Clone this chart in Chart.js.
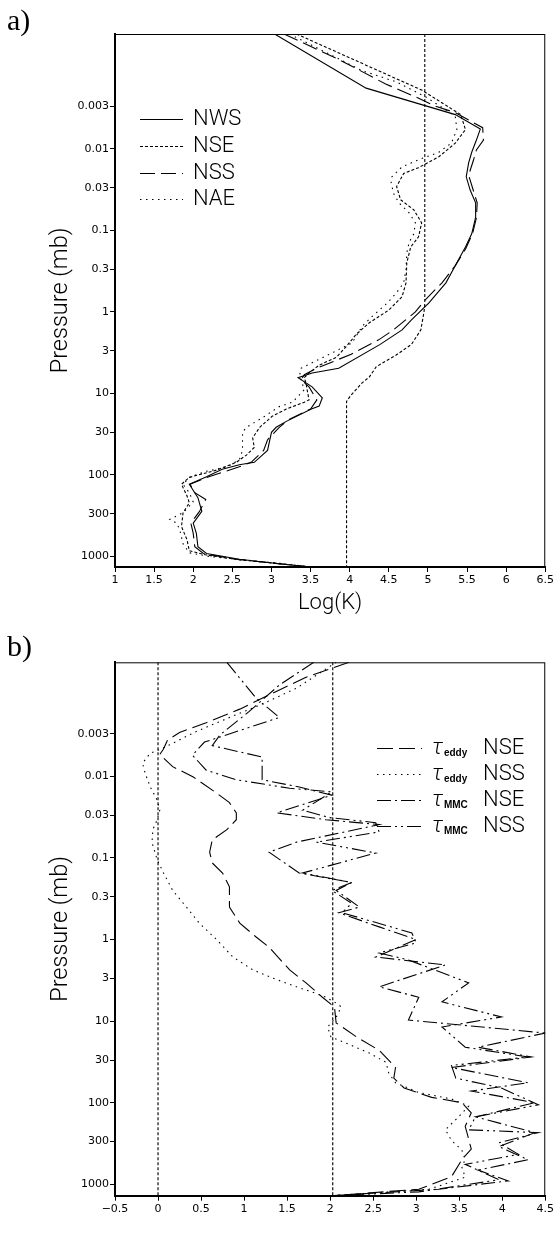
<!DOCTYPE html>
<html>
<head>
<meta charset="utf-8">
<script src="https://cdn.jsdelivr.net/npm/chart.js@4.4.1/dist/chart.umd.min.js"></script>
<style>
  body { margin: 0; background: #fff; }
  .panel { position: absolute; left: 0; width: 556px; }
  .tag { position: absolute; left: 7px; z-index: 2; font: 30px "Liberation Serif", "DejaVu Serif", serif; color: #000; line-height: 1; }
</style>
</head>
<body>
<div class="panel" style="top:0;height:620px"><canvas id="chartA"></canvas></div>
<div class="panel" style="top:620px;height:628px"><canvas id="chartB"></canvas></div>
<div class="tag" style="top:5px">a)</div>
<div class="tag" style="top:631px">b)</div>
<script>
// pressure levels (mb) labelled on the y axis of both panels
const pressureTicks = [0.003, 0.01, 0.03, 0.1, 0.3, 1, 3, 10, 30, 100, 300, 1000];

// ---- panel a: Log(K) profiles ----
const runsA = ['NWS', 'NSE', 'NSS', 'NAE'];

const nwsP = [0.00039, 0.0018, 0.0038, 0.0057, 0.0078, 0.011, 0.015, 0.022, 0.032, 0.046, 0.069, 0.11, 0.16, 0.25, 0.44, 0.78, 1.25, 1.66, 2.5, 4.9, 5.6, 6.4, 8.3, 11.3, 14.3, 15.5, 22, 26, 30, 50, 70, 75, 85, 105, 130, 190, 280, 390, 520, 760, 920, 1080, 1200, 1345];
const nwsK = [3.04, 4.21, 5.35, 5.67, 5.62, 5.56, 5.52, 5.49, 5.54, 5.61, 5.61, 5.56, 5.48, 5.37, 5.23, 5.01, 4.79, 4.67, 4.39, 3.86, 3.52, 3.34, 3.52, 3.65, 3.61, 3.51, 3.19, 3.06, 3.00, 2.95, 2.78, 2.59, 2.37, 2.17, 1.95, 2.06, 2.11, 2.00, 2.04, 2.06, 2.17, 2.59, 3.01, 3.50];

const nseP = [0.00039, 0.0019, 0.0038, 0.0058, 0.0085, 0.0125, 0.017, 0.02, 0.029, 0.042, 0.056, 0.081, 0.12, 0.16, 0.25, 0.44, 0.65, 0.95, 1.36, 1.9, 2.7, 3.6, 4.5, 5.6, 6.4, 7.4, 12, 12.8, 15.5, 19, 26, 35, 46, 57, 70, 87, 107, 130, 180, 220, 290, 430, 620, 850, 960, 1100, 1200, 1345];
const nseK = [3.32, 4.92, 5.42, 5.48, 5.35, 5.14, 4.88, 4.69, 4.60, 4.65, 4.82, 4.92, 4.88, 4.78, 4.73, 4.72, 4.67, 4.50, 4.25, 4.08, 3.95, 3.83, 3.61, 3.48, 3.42, 3.44, 3.48, 3.42, 3.19, 3.01, 2.85, 2.76, 2.78, 2.68, 2.55, 2.30, 1.95, 1.85, 1.92, 1.95, 1.87, 1.85, 1.92, 1.95, 2.17, 2.59, 3.01, 3.50];

const nssP = [0.00039, 0.0008, 0.0016, 0.0023, 0.003, 0.0036, 0.0055, 0.0078, 0.0103, 0.014, 0.021, 0.03, 0.046, 0.07, 0.11, 0.17, 0.27, 0.44, 0.72, 1.0, 1.66, 2.2, 3.3, 4.9, 5.9, 6.8, 8.3, 12, 15.5, 21, 26, 37, 50, 70, 80, 105, 130, 165, 200, 280, 390, 520, 760, 920, 1080, 1200, 1345];
const nssK = [3.16, 3.86, 4.46, 4.84, 5.10, 5.35, 5.70, 5.71, 5.62, 5.58, 5.52, 5.57, 5.63, 5.62, 5.57, 5.48, 5.35, 5.18, 4.96, 4.84, 4.56, 4.37, 4.02, 3.58, 3.42, 3.38, 3.48, 3.58, 3.50, 3.22, 3.10, 2.95, 2.90, 2.74, 2.58, 2.20, 1.96, 2.02, 2.16, 2.08, 1.97, 2.00, 2.02, 2.13, 2.55, 3.00, 3.50];

const naeP = [0.00039, 0.0011, 0.0015, 0.0023, 0.0031, 0.004, 0.0058, 0.0085, 0.011, 0.0136, 0.0166, 0.022, 0.026, 0.035, 0.046, 0.061, 0.081, 0.11, 0.14, 0.19, 0.3, 0.44, 0.58, 0.78, 1.15, 1.5, 2.4, 2.9, 4.9, 6.0, 9.0, 12.8, 14.5, 20, 26, 30, 50, 65, 80, 90, 107, 130, 165, 215, 290, 350, 390, 480, 700, 900, 1000, 1100, 1200, 1345];
const naeK = [3.23, 4.16, 4.59, 4.97, 5.18, 5.35, 5.37, 5.30, 5.14, 4.88, 4.67, 4.54, 4.53, 4.56, 4.63, 4.76, 4.84, 4.82, 4.76, 4.73, 4.72, 4.69, 4.60, 4.48, 4.28, 4.16, 4.03, 3.86, 3.38, 3.36, 3.42, 3.27, 3.10, 2.88, 2.68, 2.63, 2.63, 2.59, 2.43, 2.17, 1.95, 1.87, 1.95, 2.00, 1.87, 1.70, 1.79, 1.83, 1.87, 1.95, 2.21, 2.65, 3.07, 3.50];

// prescribed K profile (drawn without a key entry)
const kzzP = [0.00039, 0.8, 1.0, 1.66, 2.5, 3.4, 4.7, 6.3, 7.4, 10.4, 12.5, 1345];
const kzzK = [4.96, 4.96, 4.95, 4.91, 4.79, 4.59, 4.34, 4.25, 4.16, 4.02, 3.96, 3.96];

// ---- panel b: Log(tau / tau_day) time scales ----
const tauKinds = ['eddy', 'eddy', 'MMC', 'MMC'];
const runsB = ['NSE', 'NSS', 'NSE', 'NSS'];
const refLinesB = [0, 2.03];

const eddyNseP = [0.0004, 0.00061, 0.00096, 0.0015, 0.0022, 0.0029, 0.0036, 0.0047, 0.0054, 0.0076, 0.0102, 0.016, 0.021, 0.028, 0.034, 0.045, 0.06, 0.085, 0.115, 0.153, 0.226, 0.4, 0.63, 0.93, 1.24, 2.36, 3.4, 5.1, 6.7, 10.5, 15.7, 22.8, 37, 50, 66, 86, 100, 133, 195, 280, 370, 500, 810, 1150, 1380];
const eddyNseT = [2.22, 1.72, 1.33, 0.95, 0.56, 0.25, 0.11, 0.06, 0.02, 0.17, 0.41, 0.68, 0.83, 0.91, 0.91, 0.80, 0.63, 0.60, 0.63, 0.75, 0.83, 0.83, 0.95, 1.14, 1.29, 1.53, 1.72, 1.91, 2.05, 2.07, 2.31, 2.57, 2.76, 2.74, 2.86, 3.18, 3.53, 3.64, 3.57, 3.61, 3.64, 3.53, 3.41, 3.03, 2.02];

const eddyNssP = [0.0004, 0.00083, 0.0013, 0.0019, 0.0028, 0.0037, 0.0045, 0.0052, 0.0069, 0.0091, 0.0135, 0.0195, 0.026, 0.034, 0.045, 0.065, 0.105, 0.15, 0.25, 0.4, 0.63, 1.0, 1.64, 2.35, 3.1, 3.8, 4.4, 5.1, 6.0, 6.7, 9.0, 11.8, 15.7, 18.7, 24.5, 32, 43, 57, 75, 90, 110, 150, 215, 290, 380, 500, 610, 820, 1150, 1380];
const eddyNssT = [2.07, 1.61, 1.21, 0.83, 0.45, 0.22, 0.06, -0.09, -0.18, -0.15, -0.09, -0.01, 0.02, -0.01, -0.06, -0.07, -0.01, 0.06, 0.17, 0.33, 0.48, 0.68, 0.87, 1.10, 1.38, 1.61, 1.79, 1.95, 2.07, 2.13, 2.07, 1.97, 2.01, 2.19, 2.45, 2.65, 2.68, 2.76, 3.03, 3.41, 3.61, 3.49, 3.34, 3.41, 3.53, 3.57, 3.53, 3.57, 3.15, 2.02];

const mmcNseP = [0.0004, 0.00076, 0.0016, 0.0031, 0.0042, 0.0058, 0.011, 0.0135, 0.017, 0.028, 0.034, 0.039, 0.064, 0.085, 0.153, 0.2, 0.25, 0.4, 0.47, 0.7, 1.0, 1.64, 2.05, 3.8, 5.1, 9.7, 14.0, 20.9, 27.5, 37, 57, 72, 100, 149, 233, 345, 500, 670, 910, 1150, 1380];
const mmcNseT = [1.81, 1.41, 1.06, 0.72, 0.63, 1.21, 1.21, 1.64, 2.02, 1.38, 1.95, 2.57, 1.61, 1.29, 1.64, 2.25, 2.07, 2.34, 2.10, 2.57, 3.00, 2.53, 3.34, 2.57, 3.03, 2.91, 4.50, 3.72, 4.34, 3.41, 4.30, 3.64, 4.38, 3.69, 4.38, 3.96, 4.30, 3.72, 4.07, 3.26, 2.02];

const mmcNssP = [0.0004, 0.0011, 0.0019, 0.0038, 0.0055, 0.0084, 0.011, 0.014, 0.0155, 0.026, 0.032, 0.037, 0.048, 0.064, 0.087, 0.153, 0.2, 0.25, 0.36, 0.47, 0.83, 1.1, 1.46, 1.78, 3.4, 5.8, 8.9, 11.8, 20.9, 27.5, 35, 50, 66, 106, 149, 215, 233, 310, 430, 570, 880, 1240, 1380];
const mmcNssT = [0.80, 1.14, 1.41, 0.54, 0.40, 0.56, 0.91, 1.53, 2.02, 1.68, 1.99, 2.53, 2.57, 1.84, 2.53, 1.68, 2.25, 2.02, 2.25, 2.14, 2.95, 3.00, 2.57, 2.91, 3.61, 3.30, 3.99, 3.30, 3.57, 4.30, 3.41, 3.46, 3.99, 4.42, 3.69, 3.61, 4.42, 3.96, 4.19, 3.57, 3.96, 3.03, 2.02];

// ---- drawing ----
const SANS = 'Roboto, "Liberation Sans", Arial, sans-serif';
const TICK_FONT = { family: '"DejaVu Sans", sans-serif', size: 11 };
const BIG = '300 22px ' + SANS;
const TAU = 'italic 300 22px ' + SANS;
const SUB = 'bold 10px "Liberation Sans", Arial, sans-serif';

const pts = (p, v) => p.map((y, i) => ({ x: v[i], y }));

function curve(p, v, dash, label) {
  return {
    label, data: pts(p, v), showLine: true, borderColor: '#000', borderWidth: 1.1,
    borderDash: dash, pointRadius: 0, fill: false, tension: 0
  };
}

function drawParts(ctx, parts, x, y, align) {
  let total = 0;
  parts.forEach(p => { ctx.font = p.font; total += ctx.measureText(p.text).width + (p.gap || 0); });
  let cx = align === 'center' ? x - total / 2 : x;
  parts.forEach(p => {
    ctx.font = p.font;
    if (p.at !== undefined) cx = p.at;
    ctx.fillText(p.text, cx, y + (p.dy || 0));
    cx += ctx.measureText(p.text).width + (p.gap || 0);
  });
}

// thin box around the plot area
const frame = {
  id: 'frame',
  afterDraw(chart) {
    const { ctx, chartArea: a } = chart;
    ctx.save();
    ctx.strokeStyle = '#000';
    ctx.lineWidth = 1;
    ctx.strokeRect(a.left + 0.5, a.top + 0.5, a.right - a.left - 1, a.bottom - a.top);
    ctx.restore();
  }
};

// line-style key plus any extra rich-text labels
const curveKey = {
  id: 'curveKey',
  afterDraw(chart, args, opts) {
    const { ctx } = chart;
    ctx.save();
    ctx.fillStyle = '#000';
    ctx.textBaseline = 'middle';
    (opts.rows || []).forEach((y, i) => {
      const ds = chart.data.datasets[i];
      ctx.strokeStyle = '#000';
      ctx.lineWidth = 1.1;
      ctx.setLineDash(ds.borderDash || []);
      ctx.beginPath();
      ctx.moveTo(opts.x0, y + 0.5);
      ctx.lineTo(opts.x1, y + 0.5);
      ctx.stroke();
      ctx.setLineDash([]);
      drawParts(ctx, opts.labels[i], opts.textX, y, 'left');
    });
    (opts.extra || []).forEach(t => drawParts(ctx, t.parts, t.x, t.y, t.align));
    ctx.restore();
  }
};

function profileOptions(cfg) {
  return {
    responsive: true,
    maintainAspectRatio: false,
    devicePixelRatio: 1,
    animation: false,
    layout: { padding: { top: cfg.padTop, right: 9, bottom: 0, left: 0 } },
    plugins: { legend: { display: false }, tooltip: { enabled: false }, curveKey: cfg.key },
    scales: {
      x: {
        type: 'linear', min: cfg.xMin, max: cfg.xMax,
        afterFit: s => { s.height = cfg.xHeight; },
        ticks: {
          stepSize: 0.5, color: '#000', font: TICK_FONT, padding: 2, maxRotation: 0, autoSkip: false,
          callback: v => String(v).replace('-', '\u2212')
        },
        grid: { drawOnChartArea: false, tickLength: 5, color: '#000' },
        border: { color: '#000', width: 2 },
        title: cfg.xTitle
          ? { display: true, text: cfg.xTitle, color: '#000', font: { family: SANS, size: 22, weight: 300 }, padding: { top: 0, bottom: 3 } }
          : { display: false }
      },
      y: {
        type: 'logarithmic', reverse: true, min: cfg.yMin, max: cfg.yMax,
        afterFit: s => { s.width = 115; },
        afterBuildTicks: s => { s.ticks = pressureTicks.map(value => ({ value })); },
        ticks: { color: '#000', font: TICK_FONT, padding: 1, autoSkip: false, callback: v => String(v) },
        grid: { drawOnChartArea: false, tickLength: 5, color: '#000' },
        border: { color: '#000', width: 2 },
        title: { display: true, text: 'Pressure (mb)', color: '#000', font: { family: SANS, size: 23.5, weight: 300 }, padding: { top: 47, bottom: 0 } }
      }
    }
  };
}

new Chart(document.getElementById('chartA'), {
  type: 'scatter',
  data: {
    datasets: [
      curve(nwsP, nwsK, [], runsA[0]),
      curve(nseP, nseK, [3, 2], runsA[1]),
      curve(nssP, nssK, [15, 6], runsA[2]),
      curve(naeP, naeK, [1.5, 4.5], runsA[3]),
      curve(kzzP, kzzK, [3, 2])
    ]
  },
  options: profileOptions({
    padTop: 34, xMin: 1, xMax: 6.5, yMin: 0.00039, yMax: 1345, xHeight: 53, xTitle: 'Log(K)',
    key: { x0: 140, x1: 183, textX: 193, rows: [119, 146, 173, 199], labels: runsA.map(r => [{ text: r, font: BIG }]) }
  }),
  plugins: [frame, curveKey]
});

const yMinB = 0.0004, yMaxB = 1380;
new Chart(document.getElementById('chartB'), {
  type: 'scatter',
  data: {
    datasets: [
      curve(eddyNseP, eddyNseT, [16, 6]),
      curve(eddyNssP, eddyNssT, [1.5, 4.5]),
      curve(mmcNseP, mmcNseT, [14, 4, 2, 4]),
      curve(mmcNssP, mmcNssT, [14, 4, 2, 4, 2, 4]),
      ...refLinesB.map(v => ({
        data: [{ x: v, y: yMinB }, { x: v, y: yMaxB }], showLine: true, borderColor: '#222',
        borderWidth: 1.3, borderDash: [3, 2], pointRadius: 0
      }))
    ]
  },
  options: profileOptions({
    padTop: 42.3, xMin: -0.5, xMax: 4.5, yMin: yMinB, yMax: yMaxB, xHeight: 52.3, xTitle: null,
    key: {
      x0: 377, x1: 422, textX: 432, rows: [128, 154, 180, 206],
      labels: tauKinds.map((k, i) => [
        { text: '\u03c4', font: TAU, gap: 1 },
        { text: k, font: SUB, dy: 5 },
        { text: runsB[i], font: BIG, at: 483 }
      ]),
      extra: [{
        x: 331, y: 613, align: 'center',
        parts: [
          { text: 'Log(', font: BIG },
          { text: '\u03c4', font: TAU },
          { text: '/', font: BIG },
          { text: '\u03c4', font: TAU, gap: 1 },
          { text: 'day', font: SUB, dy: 6 },
          { text: ')', font: BIG }
        ]
      }]
    }
  }),
  plugins: [frame, curveKey]
});
</script>
</body>
</html>
